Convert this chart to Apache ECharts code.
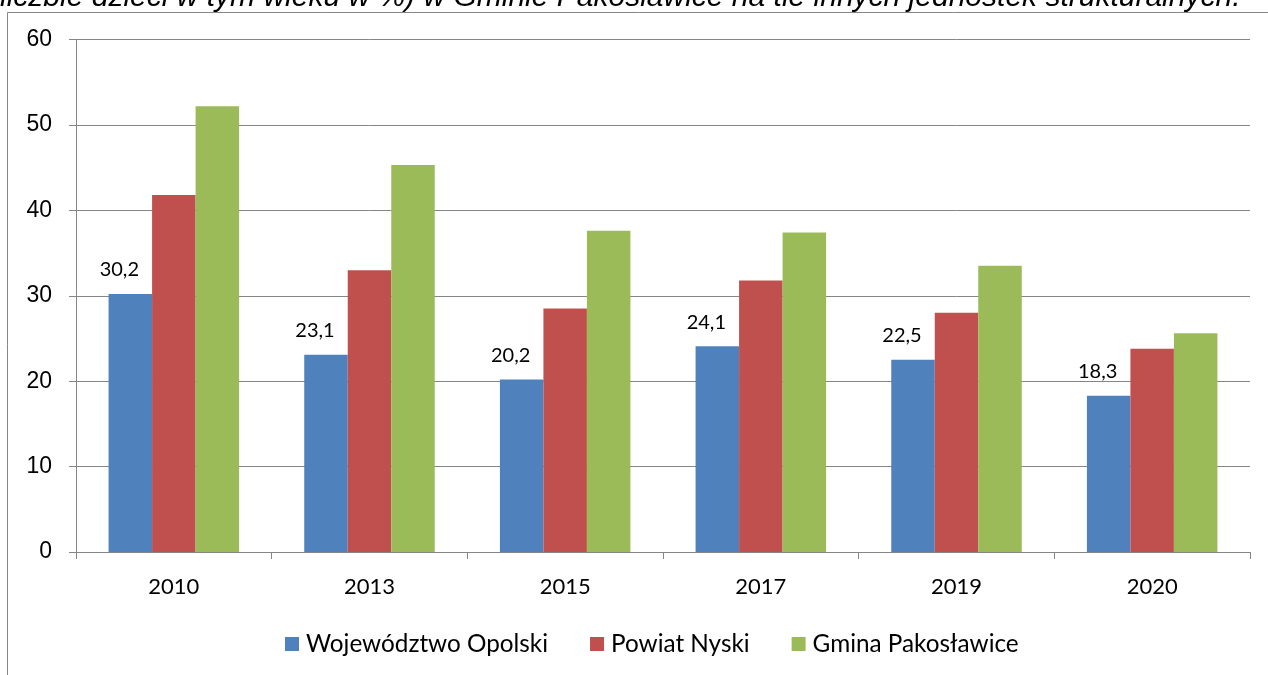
<!DOCTYPE html>
<html>
<head>
<meta charset="utf-8">
<script src="https://cdn.jsdelivr.net/npm/echarts@6/dist/echarts.min.js"></script>
<style>
  html, body { margin: 0; padding: 0; background: #fff; }
  #chart { width: 1268px; height: 675px; }
</style>
</head>
<body>
<div id="chart"></div>
<script>
// 数据
const years = ['2010', '2013', '2015', '2017', '2019', '2020'];
const seriesNames = ['Województwo Opolski', 'Powiat Nyski', 'Gmina Pakosławice'];
const opolskie = [30.2, 23.1, 20.2, 24.1, 22.5, 18.3];
const nyski = [41.8, 33.0, 28.5, 31.8, 28.0, 23.8];
const pakoslawice = [52.2, 45.3, 37.6, 37.4, 33.5, 25.6];
const yTicks = [0, 10, 20, 30, 40, 50, 60];
const titleText = 'liczbie dzieci w tym wieku w %) w Gminie Pakosławice na tle innych jednostek strukturalnych.';

const colors = ['#4F81BD', '#C0504D', '#9BBB59'];
const gridColor = '#868686';
const labelFont = 'Lato, "Open Sans", sans-serif';

// 格式化: 逗号作为小数点
function formatPL(v) {
    return String(v.toFixed(1)).replace('.', ',');
}

var chart = echarts.init(document.getElementById('chart'));

var option = {
    animation: false,
    color: colors,
    graphic: [
        {
            type: 'rect',
            shape: { x: 7.5, y: 12.5, width: 1400, height: 800 },
            style: { fill: 'none', stroke: gridColor, lineWidth: 1 },
            silent: true
        },
        {
            type: 'text',
            x: 0,
            y: -2,
            style: {
                text: titleText,
                font: 'italic 30px "Liberation Sans", Arial, sans-serif',
                fill: '#000',
                verticalAlign: 'middle'
            },
            silent: true
        }
    ],
    legend: {
        data: seriesNames,
        left: 280,
        top: 627,
        icon: 'rect',
        itemWidth: 14,
        itemHeight: 14,
        itemGap: 42,
        textStyle: {
            fontFamily: labelFont,
            fontSize: 24.3,
            color: '#000',
            padding: [0, 0, 0, 2]
        }
    },
    grid: {
        left: 76,
        right: 18,
        top: 39.5,
        bottom: 123,
        containLabel: false
    },
    xAxis: {
        type: 'category',
        data: years,
        axisLine: { lineStyle: { color: gridColor, width: 1 } },
        axisTick: { show: true, length: 7, lineStyle: { color: gridColor } },
        axisLabel: {
            color: '#000',
            fontFamily: labelFont,
            fontSize: 22,
            margin: 24
        }
    },
    yAxis: {
        type: 'value',
        min: yTicks[0],
        max: yTicks[yTicks.length - 1],
        interval: 10,
        axisLine: { show: true, lineStyle: { color: gridColor, width: 1 } },
        axisTick: { show: true, length: 7, lineStyle: { color: gridColor } },
        splitLine: { show: true, lineStyle: { color: gridColor, width: 1 } },
        axisLabel: {
            color: '#000',
            fontFamily: '"Liberation Sans", Arial, sans-serif',
            fontSize: 23,
            margin: 24
        }
    },
    series: [
        {
            name: seriesNames[0],
            type: 'bar',
            data: opolskie,
            barGap: '0%',
            barCategoryGap: '33.3%',
            label: {
                show: true,
                position: 'top',
                distance: 14,
                offset: [-11, 0],
                color: '#000',
                fontFamily: labelFont,
                fontSize: 20,
                formatter: function (p) { return formatPL(p.value); }
            }
        },
        {
            name: seriesNames[1],
            type: 'bar',
            data: nyski,
            barGap: '0%',
            barCategoryGap: '33.3%'
        },
        {
            name: seriesNames[2],
            type: 'bar',
            data: pakoslawice,
            barGap: '0%',
            barCategoryGap: '33.3%'
        }
    ]
};

chart.setOption(option);
</script>
</body>
</html>
